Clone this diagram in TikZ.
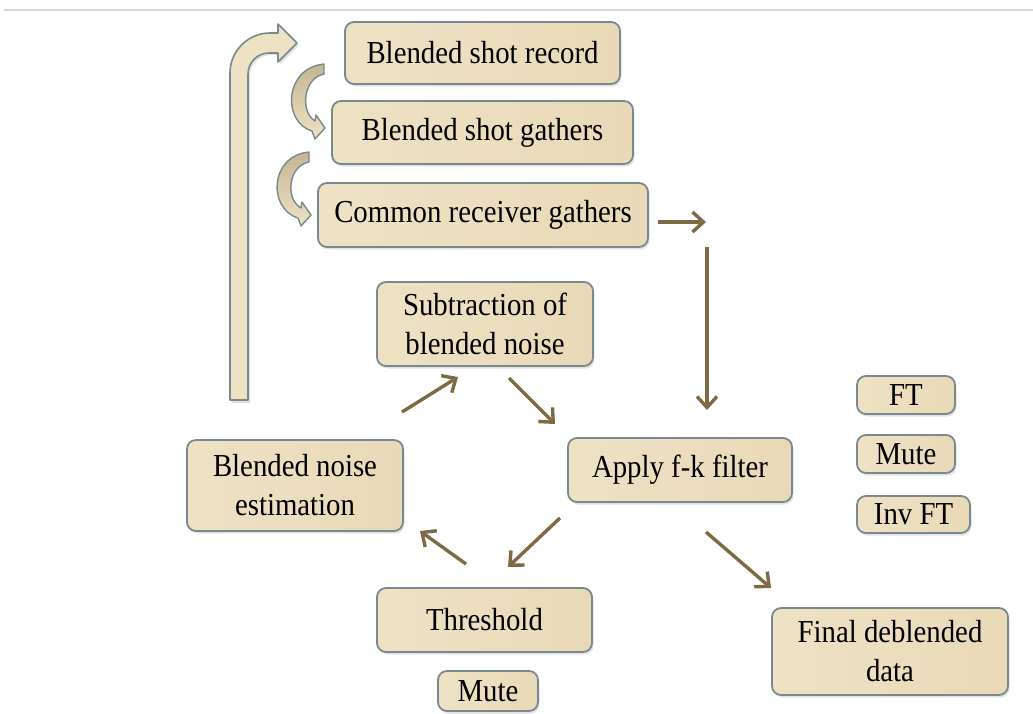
\documentclass[tikz,border=0pt]{standalone}
\usepackage{fontspec}
\setmainfont{Liberation Serif}[FakeStretch=0.9]
\usetikzlibrary{arrows.meta,shadows}
\definecolor{boxfill}{HTML}{EEE2C5}
\definecolor{boxfillb}{HTML}{E9D9B8}
\definecolor{boxline}{HTML}{7A898B}
\definecolor{arrbrown}{HTML}{7D6B44}
\definecolor{crescdark}{HTML}{C6B593}
\definecolor{topline}{HTML}{D8D8D2}
\tikzset{
  box/.style={draw=boxline, line width=1.8pt, rounded corners=9pt,
    left color=boxfill, right color=boxfillb, inner sep=0pt,
    align=center, font=\fontsize{32}{39}\selectfont,
    drop shadow={opacity=0.22, shadow xshift=1.5pt, shadow yshift=-2.5pt}},
  arr/.style={draw=arrbrown, line width=3.4pt,
    -{Straight Barb[length=11pt,width=20pt,line width=3.4pt]}},
  block/.style={draw=boxline, line width=1.6pt, fill=boxfill, line join=round},
  cresc/.style={draw=boxline, line width=1.4pt, top color=crescdark, bottom color=boxfill, line join=round},
}
\begin{document}
\begin{tikzpicture}[x=1pt,y=-1pt]
\useasboundingbox (0,0) rectangle (1033,713);
\draw[topline, line width=1.5pt] (4,10) -- (1033,10);

% nodes
\node[box, minimum width=275pt, minimum height=62pt] (bsr) at (482.5,53) {Blended shot record};
\node[box, minimum width=301pt, minimum height=63pt] (bsg) at (482.5,132.5) {Blended shot gathers};
\node[box, minimum width=330pt, minimum height=64pt] (crg) at (483,215) {Common receiver gathers};
\node[box, minimum width=216pt, minimum height=84pt] (sub) at (485,324) {Subtraction of\\blended noise};
\node[box, minimum width=224pt, minimum height=64pt] (fk) at (680,470) {Apply f-k filter};
\node[box, minimum width=216pt, minimum height=91pt] (est) at (295,485.5) {Blended noise\\estimation};
\node[box, minimum width=215pt, minimum height=64pt] (thr) at (484.5,620) {Threshold};
\node[box, minimum width=100pt, minimum height=40pt] (mutetwo) at (488,691) {Mute};
\node[box, minimum width=236pt, minimum height=87pt] (fin) at (890,651.5) {Final deblended\\data};
\node[box, minimum width=98pt, minimum height=38pt] (ft) at (906,395) {FT};
\node[box, minimum width=98pt, minimum height=38pt] (mute) at (906,454) {Mute};
\node[box, minimum width=113pt, minimum height=37pt] (inv) at (913.5,514.5) {Inv FT};

% big return block arrow
\fill[black, opacity=0.12] (232,403) -- (232,75) .. controls (232,53) and (250,35) .. (272,35) -- (280,35) -- (280,26) -- (299,45) -- (280,64) -- (280,55) -- (271,55) .. controls (259.4,55) and (250,64.4) .. (250,76) -- (250,403) -- cycle;
\draw[block] (230,400) -- (230,73) .. controls (230,51) and (248,33) .. (270,33) -- (278,33) -- (278,24) -- (297,43) -- (278,62) -- (278,53) -- (269,53) .. controls (257.4,53) and (248,62.4) .. (248,74) -- (248,400) -- cycle;

% curved arrows
\draw[cresc] (324,64) -- (324,74) .. controls (303,78) and (300,112) .. (315,121) -- (316,115) -- (325,128) -- (315,139) -- (312,131) .. controls (282,122) and (284,68) .. (324,64) -- cycle;
\draw[cresc] (309,152) -- (309,162) .. controls (288,166) and (285,199) .. (301,208) -- (302,202) -- (311,215) -- (301,226) -- (298,218) .. controls (268,209) and (269,156) .. (309,152) -- cycle;

% connectors
\coordinate (a1s) at (658,222);
\coordinate (a1e) at (706,222);
\coordinate (a2s) at (707,247);
\coordinate (a2e) at (707,410);
\coordinate (c1s) at (509,378);
\coordinate (c1e) at (555,424);
\coordinate (c2s) at (560,518);
\coordinate (c2e) at (508,567);
\coordinate (c3s) at (466,564);
\coordinate (c3e) at (420,531);
\coordinate (c4s) at (402,412);
\coordinate (c4e) at (458,377);
\coordinate (c5s) at (706,532);
\coordinate (c5e) at (771,588);
\draw[arr] (a1s) -- (a1e);
\draw[arr] (a2s) -- (a2e);
\draw[arr] (c1s) -- (c1e);
\draw[arr] (c2s) -- (c2e);
\draw[arr] (c3s) -- (c3e);
\draw[arr] (c4s) -- (c4e);
\draw[arr] (c5s) -- (c5e);
\end{tikzpicture}
\end{document}
